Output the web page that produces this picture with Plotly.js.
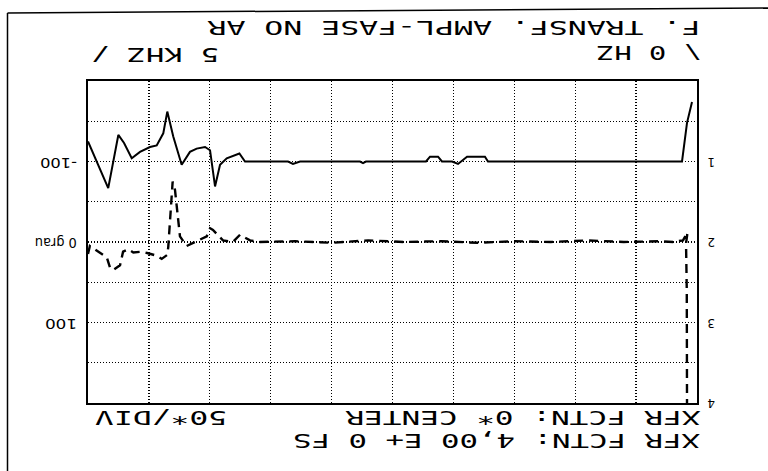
<!DOCTYPE html>
<html>
<head>
<meta charset="utf-8">
<script src="https://cdn.plot.ly/plotly-3.0.1.min.js"></script>
<style>
  html, body { margin: 0; padding: 0; background: #fff; }
  #chart { width: 768px; height: 471px; }
</style>
</head>
<body>
<div id="chart"></div>
<script>
// ---- Data (frequency in Hz; amplitude in FS units 0..4; phase in degrees) ----
const ampFreq = [5000, 4834, 4751, 4704, 4641, 4573, 4491, 4436, 4382, 4349, 4300, 4231, 4163, 4108, 4039, 3998, 3957, 3916, 3861, 3806, 3757, 3711, 3358, 3317, 3259, 2767, 2742, 2718, 2225, 2192, 2126, 2094, 2011, 1962, 1905, 1888, 1741, 1716, 123, 82, 41];
const ampVal  = [0.75, 1.33, 0.67, 0.77, 0.96, 0.88, 0.82, 0.80, 0.65, 0.38, 0.69, 1.04, 0.88, 0.84, 0.82, 0.86, 1.31, 1.04, 0.96, 0.93, 0.90, 1.00, 1.00, 1.03, 1.00, 1.00, 1.02, 1.00, 1.00, 0.94, 0.94, 1.00, 1.00, 1.03, 0.96, 0.94, 0.94, 1.00, 1.00, 0.52, 0.26];

const phaseFreq = [5000, 4985, 4846, 4819, 4795, 4737, 4712, 4669, 4628, 4559, 4507, 4436, 4395, 4349, 4341, 4305, 4286, 4245, 4190, 4108, 4025, 3998, 3974, 3892, 3810, 3752, 3670, 3588, 3300, 3000, 2700, 2400, 2100, 1800, 1500, 1200, 900, 600, 300, 197, 115, 78, 90, 84, 82];
const phaseVal  = [15, 5, 19, 32, 35, 29, 12, 9, 13, 12, 14, 17, 21, 16, 6, -75, -65, -7, 5, -1, -7, -17, -15, -2, 0, -9, -2, 0, -1, 1, -2, 0, -1, 1, -1, 0, -2, 0, -1, 0, -2, -12, 2, 60, 200];

const phaseTickVals = [-100, 0, 100];
const phaseTickText = ["-100", "0 grau", "100"];
const ampTickVals = [1, 2, 3, 4];
const ampTickText = ["1", "2", "3", "4"];

const screenTexts = [
  "F. TRANSF. AMPL-FASE NO AR",
  "\\ 0 HZ",
  "5 KHZ /",
  "XFR FCTN: 0* CENTER",
  "50*/DIV",
  "XFR FCTN: 4,00 E+ 0 FS"
];

// ---- Layout helpers (pixel -> paper) ----
const L = 88, R = 697, T = 81, B = 403;
const px = x => (x - L) / (R - L);
const py = y => (B - y) / (B - T);

// placement of screen texts (visual centre x, centre y, visual length)
const screenPos = [
  [453.5, 27.5, 493],
  [649, 53, 104],
  [155, 54.5, 128],
  [522.5, 418, 355],
  [161, 418, 132],
  [496.5, 441, 407]
];

const screenFont = { family: "DejaVu Sans Mono", size: 19, color: "#000" };

const annotations = [];
const targets = [];   // pixel targets
screenTexts.forEach((t, i) => {
  const p = screenPos[i];
  annotations.push({
    text: t, xref: "paper", yref: "paper", x: px(p[0]), y: py(p[1]),
    xanchor: "center", yanchor: "middle", showarrow: false, textangle: 180,
    font: screenFont
  });
  targets.push({ x: p[0], y: () => p[1], len: p[2] });
});

const leftLabelRight = 77;
const leftLabelLen = [37, 42, 32];
phaseTickVals.forEach((v, i) => {
  annotations.push({
    text: phaseTickText[i], xref: "paper", yref: "y", x: px(leftLabelRight - leftLabelLen[i] / 2), y: v,
    xanchor: "center", yanchor: "middle", showarrow: false, textangle: 180,
    font: { family: "DejaVu Sans", size: 14, color: "#000" }
  });
  targets.push({
    x: leftLabelRight - leftLabelLen[i] / 2, len: leftLabelLen[i],
    y: gd => gd._fullLayout.yaxis._offset + gd._fullLayout.yaxis.l2p(v) + 1
  });
});
ampTickVals.forEach((v, i) => {
  annotations.push({
    text: ampTickText[i], xref: "paper", yref: "y2", x: px(711), y: v,
    xanchor: "center", yanchor: "middle", showarrow: false, textangle: 180,
    font: { family: "DejaVu Sans", size: 12, color: "#000" }
  });
  targets.push({ x: 711, y: gd => gd._fullLayout.yaxis2._offset + gd._fullLayout.yaxis2.l2p(v) });
});

const gridDash = "1px,2px";

const traces = [
  {
    x: ampFreq, y: ampVal, yaxis: "y2", type: "scatter", mode: "lines",
    line: { color: "#000", width: 2 }, hoverinfo: "skip", showlegend: false
  },
  {
    x: phaseFreq, y: phaseVal, yaxis: "y", type: "scatter", mode: "lines",
    line: { color: "#000", width: 2.4, dash: "9px,6px" }, hoverinfo: "skip", showlegend: false
  }
];

const layout = {
  width: 768, height: 471,
  margin: { l: L, r: 768 - R, t: T, b: 471 - B, pad: 0 },
  paper_bgcolor: "#fff", plot_bgcolor: "#fff",
  showlegend: false,
  xaxis: {
    range: [5000, 0], tick0: 0, dtick: 500, showgrid: true, gridcolor: "#000",
    gridwidth: 1.3, griddash: gridDash, zeroline: false, showticklabels: false, ticks: "",
    showline: true, mirror: true, linecolor: "#000", linewidth: 2, fixedrange: true
  },
  yaxis: {
    range: [200, -200], tick0: 0, dtick: 50, showgrid: true, gridcolor: "#000",
    gridwidth: 1.3, griddash: gridDash, zeroline: false, showticklabels: false, ticks: "",
    showline: true, mirror: true, linecolor: "#000", linewidth: 2, fixedrange: true
  },
  yaxis2: {
    range: [4, 0], overlaying: "y", side: "right", showgrid: false, zeroline: false,
    showticklabels: false, ticks: "", showline: false, fixedrange: true
  },
  annotations: annotations,
  shapes: [
    { type: "line", xref: "paper", yref: "paper", x0: px(7.5), x1: px(7.5), y0: py(13), y1: py(471),
      line: { color: "#000", width: 1.5 } },
    { type: "line", xref: "paper", yref: "paper", x0: px(7.5), x1: px(768), y0: py(13), y1: py(8),
      line: { color: "#000", width: 1.5 } }
  ]
};

const gd = document.getElementById("chart");
Plotly.newPlot(gd, traces, layout, { staticPlot: true, displayModeBar: false }).then(() => {
  const base = gd.getBoundingClientRect();
  document.querySelectorAll("g.annotation").forEach(g => {
    const idx = parseInt(g.getAttribute("data-index"), 10);
    const tg = targets[idx];
    if (!tg) return;
    const txt = g.querySelector("text.annotation-text");
    if (txt && tg.len) {
      txt.setAttribute("textLength", tg.len);
      txt.setAttribute("lengthAdjust", "spacingAndGlyphs");
    }
    const inner = g.querySelector("g.annotation-text-g") || g;
    const r = inner.getBoundingClientRect();
    const cx = r.left + r.width / 2 - base.left;
    const cy = r.top + r.height / 2 - base.top;
    const dx = tg.x - cx, dy = tg.y(gd) - cy;
    g.setAttribute("transform", "translate(" + dx.toFixed(2) + "," + dy.toFixed(2) + ")");
  });
});
</script>
</body>
</html>
